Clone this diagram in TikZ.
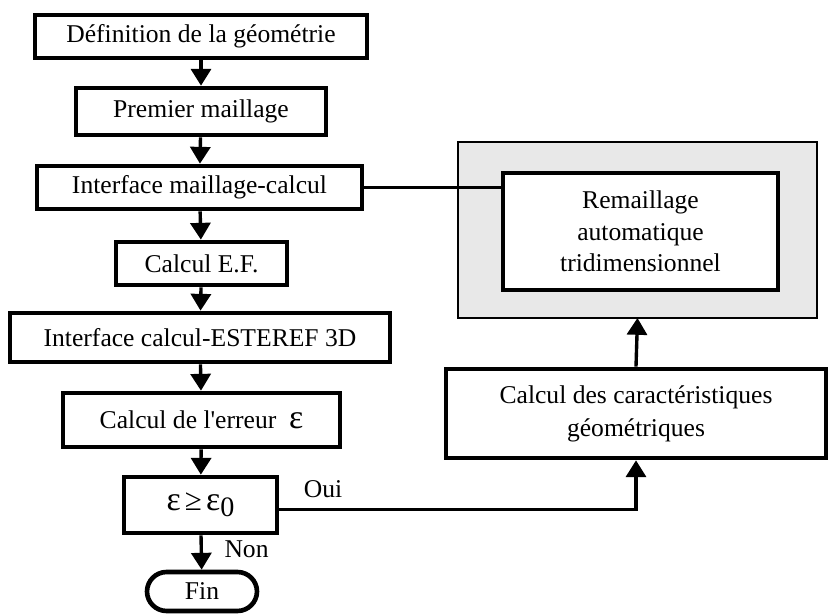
\documentclass[tikz,border=0pt]{standalone}
\usepackage{fontspec}
\setmainfont{Liberation Serif}
\newfontfamily\droit{Liberation Serif}
\newcommand{\eps}{{\fontsize{24}{24}\selectfont ε}}
\usetikzlibrary{arrows.meta}

\begin{document}
\begin{tikzpicture}[x=0.025cm,y=-0.025cm,
  boite/.style={draw,line width=3.3pt,fill=white,inner sep=0pt,align=center,font=\fontsize{18.2}{23.5}\selectfont},
  fleche/.style={line width=2.4pt,-{Triangle[width=0.5cm,length=0.42cm]}},
  trait/.style={line width=2.4pt}]
 \useasboundingbox (0,0) rectangle (829,615); %cadre
 \fill[black!9] (458,142) rectangle (817,318); %zone grise
 \draw[line width=1.5pt] (458,142) rectangle (817,318);
 \coordinate (G) at (637.5,318); %bas de la zone grise

 \node[boite,minimum width=332*0.025cm,minimum height=43*0.025cm] (def) at (201,36.5) {D\'efinition de la g\'eom\'etrie}; %1
 \node[boite,minimum width=250*0.025cm,minimum height=47*0.025cm] (prem) at (201,111.5) {Premier maillage}; %2
 \node[boite,minimum width=325*0.025cm,minimum height=43*0.025cm] (intm) at (199.5,187.5) {Interface maillage-calcul}; %3
 \node[boite,minimum width=171*0.025cm,minimum height=43*0.025cm] (calc) at (201.5,263.5) {Calcul E.F.}; %4
 \node[boite,minimum width=380*0.025cm,minimum height=49*0.025cm] (intc) at (200,337.5) {Interface calcul-ESTEREF 3D}; %5
 \node[boite,minimum width=277*0.025cm,minimum height=54*0.025cm] (err) at (201.5,420) {Calcul de l{\droit '}erreur \ \eps}; %6
 \node[boite,minimum width=153*0.025cm,minimum height=56*0.025cm] (test) at (200.5,505) {\eps\,{\fontsize{22}{22}\selectfont ≥}\,\eps\raisebox{-0.55ex}{\fontsize{20}{20}\selectfont 0}}; %test
 \node[boite,rounded corners=0.49cm,minimum width=110*0.025cm,minimum height=39*0.025cm] (fin) at (202,591.5) {Fin}; %fin
 \node[boite,minimum width=275*0.025cm,minimum height=117*0.025cm,font=\fontsize{18.2}{22.4}\selectfont] (rem) at (640.5,231.5) {Remaillage\\automatique\\tridimensionnel}; %remaillage
 \node[boite,minimum width=380*0.025cm,minimum height=89*0.025cm] (car) at (636,413.5) {Calcul des caract\'eristiques\\g\'eom\'etriques}; %caracteristiques

 \draw[fleche] (def) -- (prem);
 \draw[fleche] (prem) -- (intm);
 \draw[fleche] (intm) -- (calc);
 \draw[fleche] (calc) -- (intc);
 \draw[fleche] (intc) -- (err);
 \draw[fleche] (err) -- (test);
 \draw[fleche] (test) -- (fin) node[pos=0.4,right=12pt,font=\fontsize{18.2}{21}\selectfont] (non) {Non};
 \draw[trait] (intm.east) -- (intm.east -| rem.west); %vers remaillage
 \draw[fleche] ([yshift=-0.12cm]test.east) -| (car.south); %oui
 \node[font=\fontsize{18.2}{21}\selectfont] (oui) at (323,489) {Oui};
 \draw[fleche] (car.north) -- (G);
\end{tikzpicture}
\end{document}
